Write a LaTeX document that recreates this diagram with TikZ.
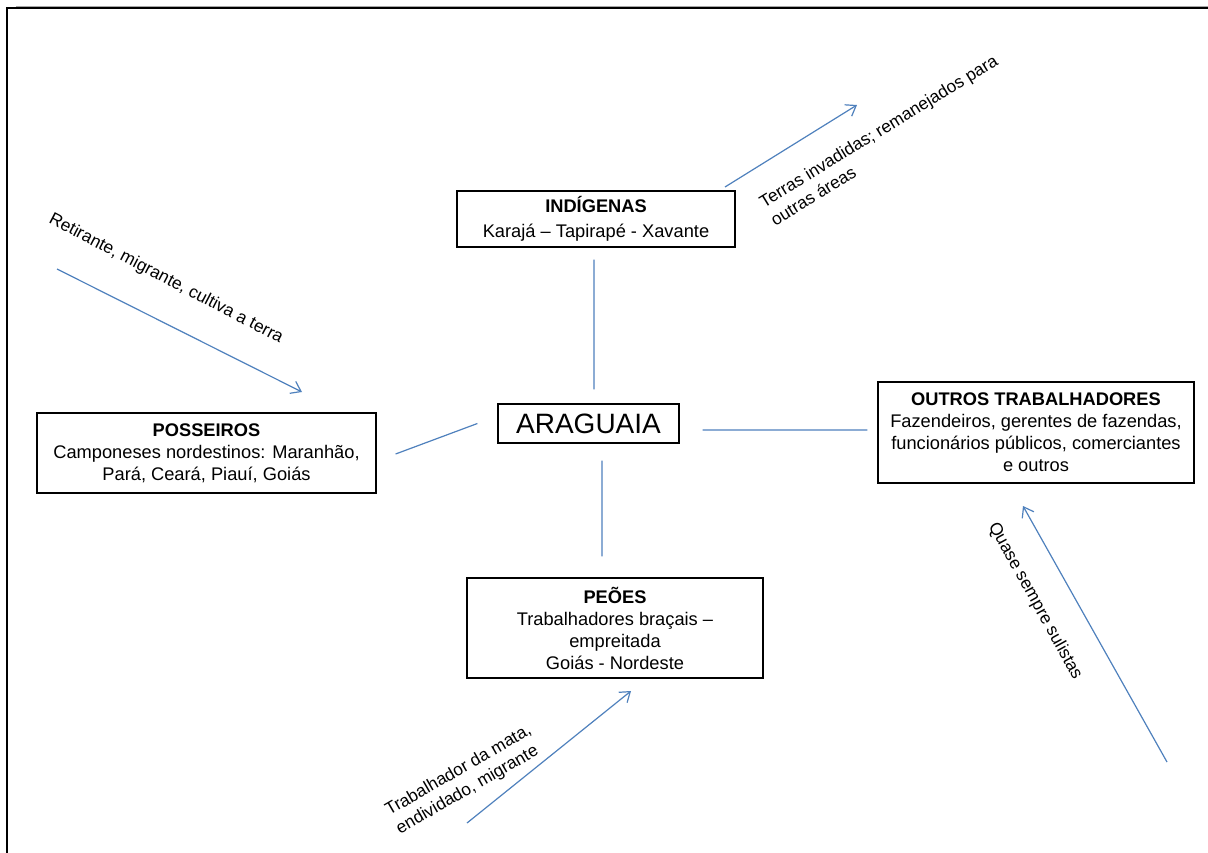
\documentclass[tikz,border=0pt]{standalone}
\usepackage{fontspec}
\setmainfont{Liberation Sans}
\usetikzlibrary{arrows.meta}
\definecolor{arrowblue}{RGB}{79,129,189}
\begin{document}
\begin{tikzpicture}[x=0.75pt,y=-0.75pt,
  box/.style={draw=black, line width=0.9pt, align=center, inner sep=0pt,
              font=\fontsize{13.7}{16.5}\selectfont},
  link/.style={draw=arrowblue, line width=0.9pt},
  arr/.style={draw=arrowblue, line width=0.9pt, -{Straight Barb[length=7pt,width=10pt]}},
  lbl/.style={font=\fontsize{13}{16}\selectfont, inner sep=0pt}]
\useasboundingbox (0,0) rectangle (1208,853);
\fill[white] (0,0) rectangle (1208,853);
% frame
\draw[gray!70, line width=0.6pt] (16,6) -- (1208,6);
\draw[black, line width=1.6pt] (7,853) -- (7,8) -- (1208,8);

% boxes
\node[box, minimum width=208.5pt, minimum height=42pt] (ind) at (596,219)
  {\textbf{INDÍGENAS}\\[2pt]Karajá – Tapirapé - Xavante};
\node[box, minimum width=135.75pt, minimum height=29.25pt,
      font=\fontsize{21}{24}\selectfont] (arag) at (588.5,423.5) {ARAGUAIA};
\node[box, minimum width=254.25pt, minimum height=60pt] (poss) at (206.5,453)
  {\textbf{POSSEIROS}\\Camponeses nordestinos: Maranhão,\\Pará, Ceará,  Piauí, Goiás};
\node[box, minimum width=237pt, minimum height=75.75pt] (outros) at (1036,432.5)
  {\textbf{OUTROS TRABALHADORES}\\Fazendeiros, gerentes de fazendas,\\funcionários públicos, comerciantes\\e outros};
\node[box, minimum width=222pt, minimum height=75pt] (peo) at (615,628)
  {\textbf{PEÕES}\\Trabalhadores braçais –\\empreitada\\Goiás - Nordeste};

% connectors between boxes
\draw[link] ([xshift=-1.5pt,yshift=-9pt]ind.south) -- ([xshift=4.1pt,yshift=10.5pt]arag.north);
\draw[link] ([xshift=10.1pt,yshift=-12.75pt]arag.south) -- ([xshift=-9.75pt,yshift=15.75pt]peo.north);
\draw[link] ([xshift=14.25pt,yshift=-0.75pt]poss.east) -- ([xshift=-15pt]arag.west);
\draw[link] ([xshift=17.25pt,yshift=-4.9pt]arag.east) -- ([xshift=-7.5pt,yshift=1.9pt]outros.west);

% free arrows
\coordinate (a1s) at (57,269);   \coordinate (a1e) at (302,392);
\coordinate (a2s) at (725,187);  \coordinate (a2e) at (857,105);
\coordinate (a3s) at (467,823);  \coordinate (a3e) at (631,691);
\coordinate (a4s) at (1167,762); \coordinate (a4e) at (1023,506);
\draw[arr] (a1s) -- (a1e);
\draw[arr] (a2s) -- (a2e);
\draw[arr] (a3s) -- (a3e);
\draw[arr] (a4s) -- (a4e);

% labels
\node[lbl, rotate=-27.5] (l1) at (166,279) {Retirante, migrante, cultiva a terra};
\node[lbl, rotate=31.5, align=left] (l2) at (884,140) {Terras invadidas; remanejados para\\outras áreas};
\node[lbl, rotate=30, align=left] (l3) at (464,780) {Trabalhador da mata,\\endividado, migrante};
\node[lbl, rotate=-61] (l4) at (1035,601) {Quase sempre sulistas};
\end{tikzpicture}
\end{document}
